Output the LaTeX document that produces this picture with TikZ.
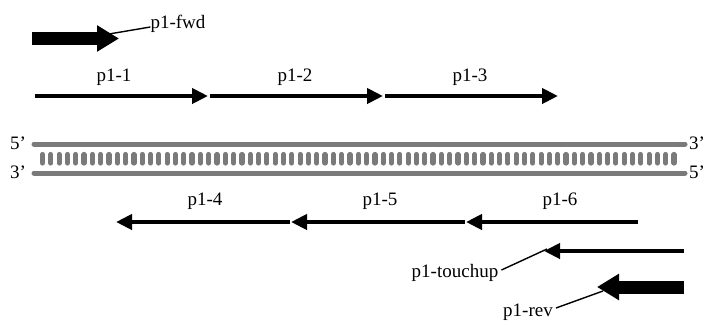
\documentclass[tikz,border=0pt]{standalone}
\usepackage{fontspec}
\setmainfont{Liberation Serif}
\usetikzlibrary{arrows.meta}
\definecolor{strand}{RGB}{122,122,122}
\newcommand{\prm}{\char"0027}
\tikzset{
  primer/.style={line width=4.5pt,-{Triangle[length=16pt,width=15pt]}},
  bigprimer/.style={line width=13pt,-{Triangle[length=22pt,width=25pt]}},
  lbl/.style={font=\fontsize{19}{22}\selectfont,inner sep=0pt},
  leader/.style={line width=1.4pt},
  backbone/.style={strand,line width=5pt,line cap=round},
  rung/.style={strand,line width=5.2pt,line cap=round}
}
\begin{document}
\begin{tikzpicture}[x=1pt,y=-1pt]
\useasboundingbox (0,0) rectangle (705,325);

% forward outer primer
\coordinate (fwdA) at (32,38.5);
\coordinate (fwdB) at (119,38.5);
\draw[bigprimer] (fwdA) -- (fwdB);
\node[lbl] (fwd) at (178,24) {p1-fwd};
\coordinate (fwdP) at (109,34);
\draw[leader] (fwdP) -- (fwd.west |- 0,27) ;

% forward primers
\coordinate (f1a) at (35,96);  \coordinate (f1b) at (208,96);
\coordinate (f2a) at (210,96); \coordinate (f2b) at (383,96);
\coordinate (f3a) at (385,96); \coordinate (f3b) at (558,96);
\draw[primer] (f1a) -- (f1b);
\draw[primer] (f2a) -- (f2b);
\draw[primer] (f3a) -- (f3b);
\node[lbl] (p1) at (114,77) {p1-1};
\node[lbl] (p2) at (295,77) {p1-2};
\node[lbl] (p3) at (470,77) {p1-3};

% double strand
\coordinate (t1) at (34,144); \coordinate (t2) at (685,144);
\coordinate (b1) at (34,173); \coordinate (b2) at (685,173);
\draw[backbone] (t1) -- (t2);
\draw[backbone] (b1) -- (b2);
\foreach \i in {0,...,76}{
  \draw[rung] ({42.5+\i*8.31},154.5) -- ({42.5+\i*8.31},163);
}
\node[lbl] (l5) at (18,143) {5\prm};
\node[lbl] (l3) at (18,172) {3\prm};
\node[lbl] (r3) at (697,143) {3\prm};
\node[lbl] (r5) at (697,172) {5\prm};

% reverse primers
\coordinate (r4a) at (290,222); \coordinate (r4b) at (116,222);
\coordinate (r5a) at (465,222); \coordinate (r5b) at (291,222);
\coordinate (r6a) at (638,222); \coordinate (r6b) at (466,222);
\draw[primer] (r4a) -- (r4b);
\draw[primer] (r5a) -- (r5b);
\draw[primer] (r6a) -- (r6b);
\node[lbl] (p4) at (205,201) {p1-4};
\node[lbl] (p5) at (380,201) {p1-5};
\node[lbl] (p6) at (560,201) {p1-6};

% touch-up primer
\coordinate (tua) at (684,251); \coordinate (tub) at (544,251);
\draw[primer] (tua) -- (tub);
\node[lbl] (tu) at (455,273) {p1-touchup};
\coordinate (tuP) at (547,249);
\draw[leader] (tu.east |- 0,270) ++(3,0) -- (tuP);

% reverse outer primer
\coordinate (reva) at (684,287); \coordinate (revb) at (597,287);
\draw[bigprimer] (reva) -- (revb);
\node[lbl] (rev) at (528,312) {p1-rev};
\coordinate (revP) at (603,291);
\draw[leader] (rev.east |- 0,308) ++(3,0) -- (revP);
\end{tikzpicture}
\end{document}
